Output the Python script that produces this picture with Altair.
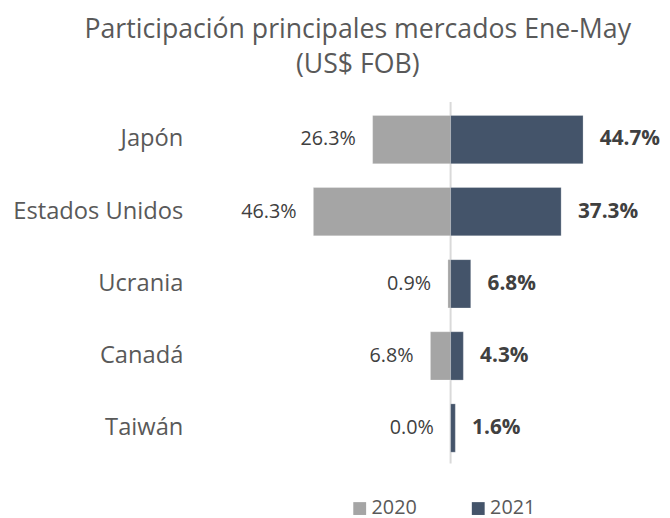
import altair as alt
import pandas as pd

countries = ["Japón", "Estados Unidos", "Ucrania", "Canadá", "Taiwán"]
v2020 = [26.3, 46.3, 0.9, 6.8, 0.0]
v2021 = [44.7, 37.3, 6.8, 4.3, 1.6]
years = ["2020", "2021"]
colors = ["#A5A5A5", "#44546A"]
title_lines = ["Participación principales mercados Ene-May", "(US$ FOB)"]

FONT = "Open Sans"
TXT = "#404040"

rows = []
for c, a, b in zip(countries, v2020, v2021):
    rows.append({"pais": c, "anio": "2020", "valor": a, "pos": -a, "cero": 0, "lbl": f"{a:.1f}%"})
    rows.append({"pais": c, "anio": "2021", "valor": b, "pos": b, "cero": 0, "lbl": f"{b:.1f}%"})
df = pd.DataFrame(rows)

W, H = 460, 365
xscale = alt.Scale(domain=[-83.333, 70], nice=False, zero=False)
yenc = alt.Y(
    "pais:N",
    sort=countries,
    scale=alt.Scale(paddingInner=0.33, paddingOuter=0.165),
    axis=alt.Axis(title=None, domain=False, ticks=False, labelFontSize=24,
                  labelColor="#595959", labelFont=FONT, labelPadding=21),
)

base = alt.Chart(df)

bars = base.mark_bar(strokeWidth=1, strokeOpacity=0.25, stroke="white").encode(
    x=alt.X("pos:Q", scale=xscale, axis=None),
    x2="cero:Q",
    y=yenc,
    color=alt.Color(
        "anio:N",
        scale=alt.Scale(domain=years, range=colors),
        legend=alt.Legend(
            title=None, orient="none", legendX=148, legendY=400,
            direction="horizontal", symbolType="square", symbolSize=169,
            symbolStrokeWidth=0, labelFontSize=20, labelFont=FONT,
            labelColor="#595959", columnPadding=52, padding=0, labelOffset=2,
        ),
    ),
)

rule = alt.Chart(pd.DataFrame({"x": [0]})).mark_rule(color="#D9D9D9", strokeWidth=2).encode(
    x=alt.X("x:Q", scale=xscale, axis=None),
    y=alt.value(-1.5),
    y2=alt.value(364.5),
)

t2020 = base.transform_filter(alt.datum.anio == "2020").mark_text(
    align="right", baseline="middle", dx=-17, fontSize=20, font=FONT, color=TXT
).encode(x=alt.X("pos:Q", scale=xscale, axis=None), y=yenc, text="lbl:N")

t2021 = base.transform_filter(alt.datum.anio == "2021").mark_text(
    align="left", baseline="middle", dx=17, fontSize=21, font=FONT, color=TXT, fontWeight="bold"
).encode(x=alt.X("pos:Q", scale=xscale, axis=None), y=yenc, text="lbl:N")

chart = (
    alt.layer(rule, bars, t2020, t2021)
    .properties(
        width=W, height=H,
        title=alt.TitleParams(
            title_lines, font=FONT, fontSize=27, fontWeight="normal",
            color="#595959", anchor="middle", dx=-74, lineHeight=36, offset=22,
        ),
        autosize=alt.AutoSizeParams(type="none"),
        padding={"left": 198, "top": 93.5, "right": 4, "bottom": 60},
    )
    .configure_view(stroke=None)
)

chart.save("out.html", embed_options={"renderer": "svg", "actions": False})
